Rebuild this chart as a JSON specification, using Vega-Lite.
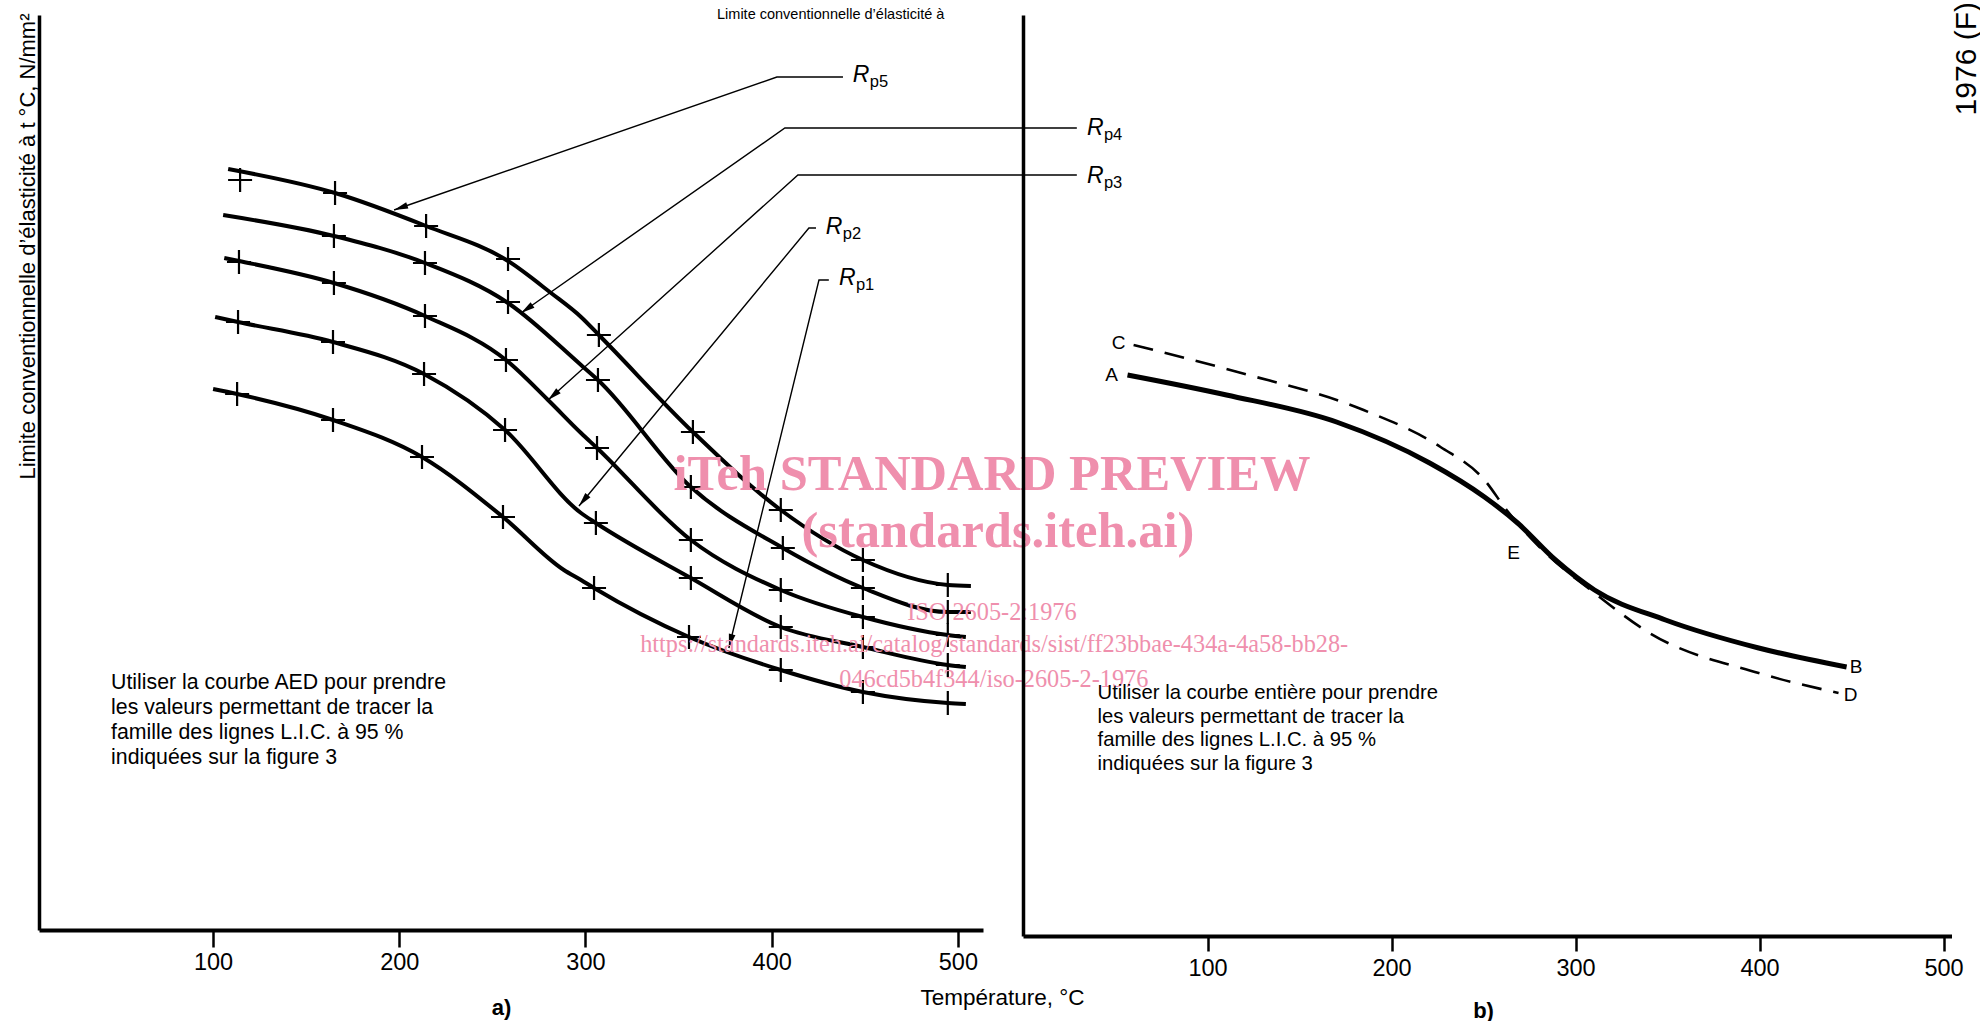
{
  "$schema": "https://vega.github.io/schema/vega-lite/v6.json",
  "background": "white",
  "padding": {"left": 15, "top": 2, "right": 0, "bottom": 0},
  "config": {
    "view": {"stroke": null},
    "font": "Liberation Sans",
    "axis": {"grid": false, "domainColor": "black", "tickColor": "black", "labelColor": "black", "titleColor": "black", "labelFont": "Liberation Sans", "titleFont": "Liberation Sans"}
  },
  "bounds": "flush",
  "spacing": 40,
  "datasets": {
    "curves": [
      {"s": "Rp5", "t": 108.1, "r": 761}, {"s": "Rp5", "t": 165.5, "r": 737}, {"s": "Rp5", "t": 214.4, "r": 704}, {"s": "Rp5", "t": 258.4, "r": 669}, {"s": "Rp5", "t": 281.5, "r": 637}, {"s": "Rp5", "t": 297.6, "r": 613}, {"s": "Rp5", "t": 307.2, "r": 595}, {"s": "Rp5", "t": 357.7, "r": 498}, {"s": "Rp5", "t": 404.9, "r": 420}, {"s": "Rp5", "t": 449.0, "r": 370}, {"s": "Rp5", "t": 494.6, "r": 345}, {"s": "Rp5", "t": 507.0, "r": 344},
      {"s": "Rp4", "t": 105.4, "r": 715}, {"s": "Rp4", "t": 164.9, "r": 694}, {"s": "Rp4", "t": 213.8, "r": 667}, {"s": "Rp4", "t": 258.4, "r": 627}, {"s": "Rp4", "t": 297.6, "r": 565}, {"s": "Rp4", "t": 306.7, "r": 550}, {"s": "Rp4", "t": 356.6, "r": 443}, {"s": "Rp4", "t": 406.0, "r": 382}, {"s": "Rp4", "t": 449.0, "r": 342}, {"s": "Rp4", "t": 494.6, "r": 318}, {"s": "Rp4", "t": 507.0, "r": 318},
      {"s": "Rp3", "t": 106.0, "r": 672}, {"s": "Rp3", "t": 113.9, "r": 669}, {"s": "Rp3", "t": 164.9, "r": 647}, {"s": "Rp3", "t": 213.8, "r": 614}, {"s": "Rp3", "t": 257.3, "r": 570}, {"s": "Rp3", "t": 279.9, "r": 530}, {"s": "Rp3", "t": 297.6, "r": 497}, {"s": "Rp3", "t": 306.2, "r": 482}, {"s": "Rp3", "t": 356.6, "r": 390}, {"s": "Rp3", "t": 404.9, "r": 340}, {"s": "Rp3", "t": 449.0, "r": 313}, {"s": "Rp3", "t": 494.6, "r": 295}, {"s": "Rp3", "t": 504.3, "r": 293},
      {"s": "Rp2", "t": 101.1, "r": 613}, {"s": "Rp2", "t": 113.4, "r": 608}, {"s": "Rp2", "t": 164.4, "r": 588}, {"s": "Rp2", "t": 213.3, "r": 556}, {"s": "Rp2", "t": 256.8, "r": 500}, {"s": "Rp2", "t": 297.6, "r": 417}, {"s": "Rp2", "t": 305.6, "r": 407}, {"s": "Rp2", "t": 356.6, "r": 352}, {"s": "Rp2", "t": 404.9, "r": 303}, {"s": "Rp2", "t": 449.0, "r": 283}, {"s": "Rp2", "t": 494.6, "r": 265}, {"s": "Rp2", "t": 504.3, "r": 263},
      {"s": "Rp1", "t": 100.0, "r": 541}, {"s": "Rp1", "t": 112.9, "r": 536}, {"s": "Rp1", "t": 164.4, "r": 510}, {"s": "Rp1", "t": 212.2, "r": 473}, {"s": "Rp1", "t": 255.7, "r": 413}, {"s": "Rp1", "t": 288.4, "r": 360}, {"s": "Rp1", "t": 297.6, "r": 350}, {"s": "Rp1", "t": 304.6, "r": 342}, {"s": "Rp1", "t": 355.6, "r": 293}, {"s": "Rp1", "t": 404.9, "r": 260}, {"s": "Rp1", "t": 449.0, "r": 238}, {"s": "Rp1", "t": 494.6, "r": 227}, {"s": "Rp1", "t": 504.3, "r": 226}
    ],
    "markers": [
      {"s": "Rp5", "t": 114.5, "r": 750}, {"s": "Rp5", "t": 165.5, "r": 737}, {"s": "Rp5", "t": 214.4, "r": 704}, {"s": "Rp5", "t": 258.4, "r": 671}, {"s": "Rp5", "t": 307.2, "r": 595}, {"s": "Rp5", "t": 357.7, "r": 498}, {"s": "Rp5", "t": 404.9, "r": 420}, {"s": "Rp5", "t": 449.0, "r": 370}, {"s": "Rp5", "t": 494.6, "r": 345},
      {"s": "Rp4", "t": 164.9, "r": 694}, {"s": "Rp4", "t": 213.8, "r": 667}, {"s": "Rp4", "t": 258.4, "r": 628}, {"s": "Rp4", "t": 306.7, "r": 550}, {"s": "Rp4", "t": 356.6, "r": 443}, {"s": "Rp4", "t": 406.0, "r": 382}, {"s": "Rp4", "t": 449.0, "r": 342}, {"s": "Rp4", "t": 494.6, "r": 318},
      {"s": "Rp3", "t": 113.9, "r": 668}, {"s": "Rp3", "t": 164.9, "r": 647}, {"s": "Rp3", "t": 213.8, "r": 614}, {"s": "Rp3", "t": 257.3, "r": 570}, {"s": "Rp3", "t": 306.2, "r": 482}, {"s": "Rp3", "t": 356.6, "r": 390}, {"s": "Rp3", "t": 404.9, "r": 340}, {"s": "Rp3", "t": 449.0, "r": 313}, {"s": "Rp3", "t": 494.6, "r": 295},
      {"s": "Rp2", "t": 113.4, "r": 608}, {"s": "Rp2", "t": 164.4, "r": 588}, {"s": "Rp2", "t": 213.3, "r": 556}, {"s": "Rp2", "t": 256.8, "r": 500}, {"s": "Rp2", "t": 305.6, "r": 407}, {"s": "Rp2", "t": 356.6, "r": 352}, {"s": "Rp2", "t": 404.9, "r": 303}, {"s": "Rp2", "t": 449.0, "r": 283}, {"s": "Rp2", "t": 494.6, "r": 265},
      {"s": "Rp1", "t": 112.9, "r": 536}, {"s": "Rp1", "t": 164.4, "r": 510}, {"s": "Rp1", "t": 212.2, "r": 473}, {"s": "Rp1", "t": 255.7, "r": 413}, {"s": "Rp1", "t": 304.6, "r": 342}, {"s": "Rp1", "t": 355.6, "r": 293}, {"s": "Rp1", "t": 404.9, "r": 260}, {"s": "Rp1", "t": 449.0, "r": 238}, {"s": "Rp1", "t": 494.6, "r": 227}
    ],
    "leaders": [
      {"s": "Rp5", "k": 0, "t": 438.3, "r": 853}, {"s": "Rp5", "k": 1, "t": 402.8, "r": 853}, {"s": "Rp5", "k": 2, "t": 197.2, "r": 720},
      {"s": "Rp4", "k": 0, "t": 563.9, "r": 802}, {"s": "Rp4", "k": 1, "t": 407.1, "r": 802}, {"s": "Rp4", "k": 2, "t": 265.4, "r": 617},
      {"s": "Rp3", "k": 0, "t": 563.9, "r": 755}, {"s": "Rp3", "k": 1, "t": 414.1, "r": 755}, {"s": "Rp3", "k": 2, "t": 279.9, "r": 530},
      {"s": "Rp2", "k": 0, "t": 423.8, "r": 702}, {"s": "Rp2", "k": 1, "t": 420.0, "r": 702}, {"s": "Rp2", "k": 2, "t": 296.5, "r": 424},
      {"s": "Rp1", "k": 0, "t": 430.7, "r": 650}, {"s": "Rp1", "k": 1, "t": 425.4, "r": 650}, {"s": "Rp1", "k": 2, "t": 377.0, "r": 282}
    ],
    "tips": [
      {"s": "Rp5", "t": 197.2, "r": 720}, {"s": "Rp4", "t": 265.4, "r": 617}, {"s": "Rp3", "t": 279.9, "r": 530}, {"s": "Rp2", "t": 296.5, "r": 424}, {"s": "Rp1", "t": 377.0, "r": 282}
    ],
    "rlabels": [
      {"s": "Rp5", "sub": "p5", "t": 443.6, "r": 855}, {"s": "Rp4", "sub": "p4", "t": 569.3, "r": 802}, {"s": "Rp3", "sub": "p3", "t": 569.3, "r": 754}, {"s": "Rp2", "sub": "p2", "t": 429.1, "r": 703}, {"s": "Rp1", "sub": "p1", "t": 436.1, "r": 652}
    ],
    "notes_a": [
      {"txt": "Utiliser la courbe AED pour prendre\nles valeurs permettant de tracer la\nfamille des lignes L.I.C. à 95 %\nindiquées sur la figure 3", "t": 45.2, "r": 247}
    ],
    "top_a": [
      {"txt": "Limite conventionnelle d’élasticité à", "t": 431.7, "r": 915}
    ],
    "wm_big": [
      {"txt": "iTeh STANDARD PREVIEW", "t": 518.3, "r": 440},
      {"txt": "(standards.iteh.ai)", "t": 521.5, "r": 383}
    ],
    "wm_small": [
      {"txt": "ISO 2605-2:1976", "t": 518.3, "r": 310},
      {"txt": "https://standards.iteh.ai/catalog/standards/sist/ff23bbae-434a-4a58-bb28-", "t": 519.5, "r": 278},
      {"txt": "046cd5b4f344/iso-2605-2-1976", "t": 519.3, "r": 243}
    ],
    "curves_b": [
      {"s": "AEB", "t": 56.5, "r": 561}, {"s": "AEB", "t": 110.3, "r": 541}, {"s": "AEB", "t": 170.1, "r": 514}, {"s": "AEB", "t": 220.7, "r": 473}, {"s": "AEB", "t": 250.5, "r": 439}, {"s": "AEB", "t": 268.5, "r": 413}, {"s": "AEB", "t": 289.1, "r": 376}, {"s": "AEB", "t": 310.3, "r": 346}, {"s": "AEB", "t": 348.9, "r": 316}, {"s": "AEB", "t": 399.5, "r": 288}, {"s": "AEB", "t": 447.3, "r": 269},
      {"s": "CED", "t": 59.8, "r": 591}, {"s": "CED", "t": 116.3, "r": 564}, {"s": "CED", "t": 184.8, "r": 526}, {"s": "CED", "t": 226.6, "r": 489}, {"s": "CED", "t": 250.5, "r": 456}, {"s": "CED", "t": 262.5, "r": 426}, {"s": "CED", "t": 280.4, "r": 389}, {"s": "CED", "t": 310.3, "r": 343}, {"s": "CED", "t": 340.2, "r": 303}, {"s": "CED", "t": 399.5, "r": 263}, {"s": "CED", "t": 442.9, "r": 243}
    ],
    "labels_b": [
      {"txt": "A", "t": 47.8, "r": 561}, {"txt": "C", "t": 51.6, "r": 593}, {"txt": "E", "t": 266.3, "r": 383}, {"txt": "B", "t": 452.5, "r": 269}, {"txt": "D", "t": 449.5, "r": 241}
    ],
    "notes_b": [
      {"txt": "Utiliser la courbe entière pour prendre\nles valeurs permettant de tracer la\nfamille des lignes L.I.C. à 95 %\nindiquées sur la figure 3", "t": 40.2, "r": 243}
    ],
    "xtitle_b": [
      {"txt": "Température, °C", "t": -11.4, "r": -62}
    ],
    "corner_b": [
      {"txt": "1976 (F)", "t": 512.8, "r": 934}
    ]
  },
  "hconcat": [
    {
      "width": 944,
      "height": 915,
      "layer": [
        {
          "data": {"name": "curves"},
          "mark": {"type": "line", "interpolate": "monotone", "color": "black", "strokeWidth": 4, "clip": false},
          "encoding": {
            "x": {"field": "t", "type": "quantitative", "scale": {"domain": [6.5, 513.5], "nice": false, "zero": false},
              "axis": {"values": [100, 200, 300, 400, 500], "format": "d", "tickSize": 17, "tickWidth": 2.5, "domainWidth": 4, "labelFontSize": 23.5, "labelPadding": 3, "labelFlush": false,
                "title": "a)", "titleX": 462, "titleY": 77, "titleFontSize": 22, "titleFontWeight": "bold", "titleBaseline": "middle", "titleAlign": "center"}},
            "y": {"field": "r", "type": "quantitative", "scale": {"domain": [0, 915], "nice": false, "zero": false},
              "axis": {"labels": false, "ticks": false, "domainWidth": 3.5, "title": "Limite conventionnelle d’élasticité à t °C, N/mm²", "titleAnchor": "end", "titleAlign": "right", "titleY": -2, "titleFontSize": 22, "titleFontWeight": "normal", "titlePadding": 5, "titleBaseline": "alphabetic"}},
            "detail": {"field": "s"}
          }
        },
        {
          "data": {"name": "markers"},
          "mark": {"type": "point", "shape": "M-1,0L1,0M0,-1L0,1", "size": 576, "filled": false, "stroke": "black", "strokeWidth": 2.2, "opacity": 1, "clip": false},
          "encoding": {"x": {"field": "t", "type": "quantitative"}, "y": {"field": "r", "type": "quantitative"}}
        },
        {
          "data": {"name": "leaders"},
          "mark": {"type": "line", "color": "black", "strokeWidth": 1.4, "clip": false},
          "encoding": {"x": {"field": "t", "type": "quantitative"}, "y": {"field": "r", "type": "quantitative"}, "detail": {"field": "s"}, "order": {"field": "k", "type": "quantitative"}}
        },
        {
          "data": {"name": "tips"},
          "mark": {"type": "point", "shape": "M0,0L0.24,1L-0.24,1Z", "size": 784, "filled": true, "color": "black", "opacity": 1, "clip": false},
          "encoding": {
            "x": {"field": "t", "type": "quantitative"}, "y": {"field": "r", "type": "quantitative"},
            "angle": {"field": "s", "type": "ordinal", "scale": {"type": "ordinal", "domain": ["Rp5", "Rp4", "Rp3", "Rp2", "Rp1"], "range": [250.9, 235.0, 228.0, 219.6, 193.7]}, "legend": null}
          }
        },
        {
          "data": {"name": "rlabels"},
          "mark": {"type": "text", "text": "R", "fontStyle": "italic", "fontSize": 23, "align": "left", "baseline": "middle", "color": "black", "clip": false},
          "encoding": {"x": {"field": "t", "type": "quantitative"}, "y": {"field": "r", "type": "quantitative"}}
        },
        {
          "data": {"name": "rlabels"},
          "mark": {"type": "text", "fontSize": 16.5, "align": "left", "baseline": "middle", "dx": 17, "dy": 7, "color": "black", "clip": false},
          "encoding": {"x": {"field": "t", "type": "quantitative"}, "y": {"field": "r", "type": "quantitative"}, "text": {"field": "sub"}}
        },
        {
          "data": {"name": "notes_a"},
          "mark": {"type": "text", "fontSize": 21.3, "align": "left", "baseline": "middle", "lineBreak": "\n", "lineHeight": 25, "color": "black", "clip": false},
          "encoding": {"x": {"field": "t", "type": "quantitative"}, "y": {"field": "r", "type": "quantitative"}, "text": {"field": "txt"}}
        },
        {
          "data": {"name": "top_a"},
          "mark": {"type": "text", "fontSize": 14.5, "align": "center", "baseline": "middle", "color": "black", "clip": false},
          "encoding": {"x": {"field": "t", "type": "quantitative"}, "y": {"field": "r", "type": "quantitative"}, "text": {"field": "txt"}}
        },
        {
          "data": {"name": "wm_big"},
          "mark": {"type": "text", "font": "Liberation Serif", "fontWeight": "bold", "fontSize": 50.5, "align": "center", "baseline": "alphabetic", "color": "#ef8fad", "clip": false},
          "encoding": {"x": {"field": "t", "type": "quantitative"}, "y": {"field": "r", "type": "quantitative"}, "text": {"field": "txt"}}
        },
        {
          "data": {"name": "wm_small"},
          "mark": {"type": "text", "font": "Liberation Serif", "fontSize": 24.3, "align": "center", "baseline": "alphabetic", "color": "#ef8fad", "clip": false},
          "encoding": {"x": {"field": "t", "type": "quantitative"}, "y": {"field": "r", "type": "quantitative"}, "text": {"field": "txt"}}
        }
      ]
    },
    {
      "width": 928.5,
      "height": 921,
      "layer": [
        {
          "data": {"name": "curves_b"},
          "transform": [{"filter": "datum.s === 'AEB'"}],
          "mark": {"type": "line", "interpolate": "monotone", "color": "black", "strokeWidth": 5, "clip": false},
          "encoding": {
            "x": {"field": "t", "type": "quantitative", "scale": {"domain": [-0.3, 504.3], "nice": false, "zero": false},
              "axis": {"values": [100, 200, 300, 400, 500], "format": "d", "tickSize": 15, "tickWidth": 2.5, "domainWidth": 4, "labelFontSize": 23.5, "labelPadding": 5, "labelFlush": false,
                "title": "b)", "titleX": 460, "titleY": 74, "titleFontSize": 22, "titleFontWeight": "bold", "titleBaseline": "middle", "titleAlign": "center"}},
            "y": {"field": "r", "type": "quantitative", "scale": {"domain": [0, 921], "nice": false, "zero": false},
              "axis": {"labels": false, "ticks": false, "domainWidth": 3.5, "title": null}}
          }
        },
        {
          "data": {"name": "curves_b"},
          "transform": [{"filter": "datum.s === 'CED'"}],
          "mark": {"type": "line", "interpolate": "monotone", "color": "black", "strokeWidth": 2.6, "strokeDash": [20, 12], "clip": false},
          "encoding": {"x": {"field": "t", "type": "quantitative"}, "y": {"field": "r", "type": "quantitative"}}
        },
        {
          "data": {"name": "labels_b"},
          "mark": {"type": "text", "fontSize": 19, "align": "center", "baseline": "middle", "color": "black", "clip": false},
          "encoding": {"x": {"field": "t", "type": "quantitative"}, "y": {"field": "r", "type": "quantitative"}, "text": {"field": "txt"}}
        },
        {
          "data": {"name": "notes_b"},
          "mark": {"type": "text", "fontSize": 20.3, "align": "left", "baseline": "middle", "lineBreak": "\n", "lineHeight": 23.7, "color": "black", "clip": false},
          "encoding": {"x": {"field": "t", "type": "quantitative"}, "y": {"field": "r", "type": "quantitative"}, "text": {"field": "txt"}}
        },
        {
          "data": {"name": "xtitle_b"},
          "mark": {"type": "text", "fontSize": 22.5, "align": "center", "baseline": "middle", "color": "black", "clip": false},
          "encoding": {"x": {"field": "t", "type": "quantitative"}, "y": {"field": "r", "type": "quantitative"}, "text": {"field": "txt"}}
        },
        {
          "data": {"name": "corner_b"},
          "mark": {"type": "text", "fontSize": 30, "angle": 270, "align": "right", "baseline": "middle", "color": "black", "clip": false},
          "encoding": {"x": {"field": "t", "type": "quantitative"}, "y": {"field": "r", "type": "quantitative"}, "text": {"field": "txt"}}
        }
      ]
    }
  ]
}
